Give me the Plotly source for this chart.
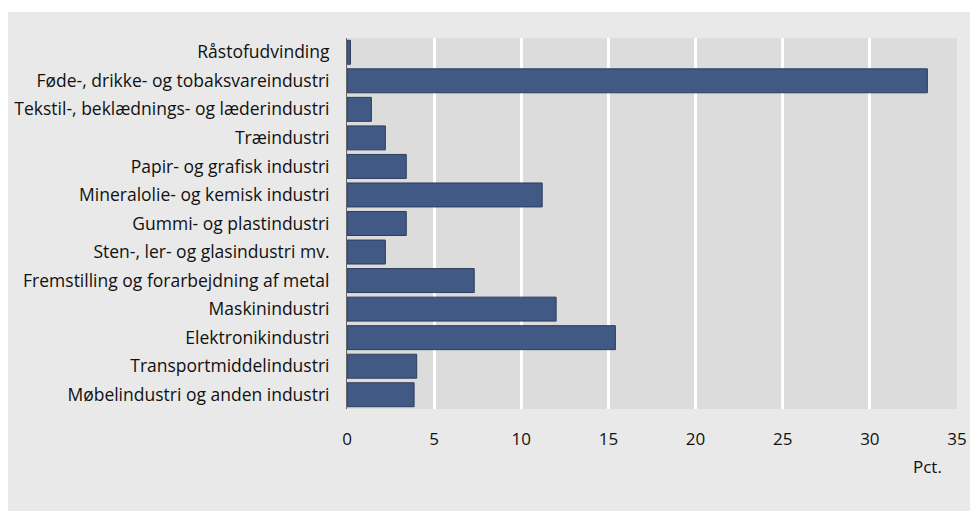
import plotly.graph_objects as go

categories = [
    "Råstofudvinding",
    "Føde-, drikke- og tobaksvareindustri",
    "Tekstil-, beklædnings- og læderindustri",
    "Træindustri",
    "Papir- og grafisk industri",
    "Mineralolie- og kemisk industri",
    "Gummi- og plastindustri",
    "Sten-, ler- og glasindustri mv.",
    "Fremstilling og forarbejdning af metal",
    "Maskinindustri",
    "Elektronikindustri",
    "Transportmiddelindustri",
    "Møbelindustri og anden industri",
]
values = [0.2, 33.3, 1.4, 2.2, 3.4, 11.2, 3.4, 2.2, 7.3, 12.0, 15.4, 4.0, 3.85]
x_ticks = [0, 5, 10, 15, 20, 25, 30, 35]

FONT = "Open Sans, sans-serif"

fig = go.Figure()
fig.add_trace(
    go.Bar(
        x=values,
        y=categories,
        orientation="h",
        marker=dict(color="#405985", line=dict(color="#2e3d5c", width=1)),
        width=0.84,
        hoverinfo="x+y",
    )
)

# thin white strip at the very top, above the grey panel
fig.add_shape(
    type="rect", xref="paper", yref="paper",
    x0=-0.6, x1=1.1, y0=1.0701, y1=1.1,
    fillcolor="white", line=dict(width=0),
)

fig.add_annotation(
    text="Pct.", xref="paper", yref="paper", x=0.951, y=-0.156,
    xanchor="center", yanchor="middle",
    showarrow=False, font=dict(size=17, color="#111111", family=FONT),
)

fig.update_layout(
    width=970, height=503,
    margin=dict(l=339, r=21, t=30, b=102),
    paper_bgcolor="#e9e9e9",
    plot_bgcolor="#dcdcdc",
    showlegend=False,
    font=dict(family=FONT, size=17, color="#111111"),
)
fig.update_xaxes(
    range=[0, 35], tickvals=x_ticks, showgrid=True, gridcolor="white",
    gridwidth=3, zeroline=False, ticks="", ticklabelstandoff=18,
    fixedrange=True, automargin=False,
)
fig.update_yaxes(
    autorange="reversed", showgrid=False, showline=True, linecolor="#666666",
    linewidth=1, ticks="", ticklabelstandoff=13, fixedrange=True,
    tickfont=dict(size=17.5), automargin=False,
)

fig.write_html("out.html")
